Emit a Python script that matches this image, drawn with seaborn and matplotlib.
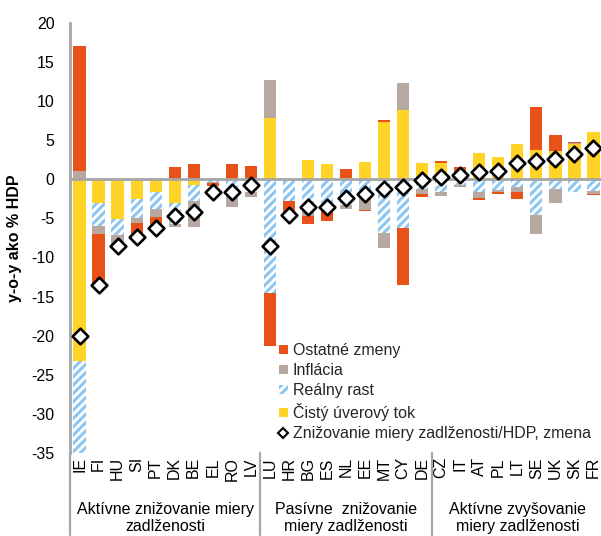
import numpy as np
import matplotlib
matplotlib.use("Agg")
import matplotlib.pyplot as plt
import matplotlib.transforms as mtransforms
from matplotlib.patches import Patch
from matplotlib.lines import Line2D
import seaborn as sns

# ---------------- data ----------------
countries = ["IE", "FI", "HU", "SI", "PT", "DK", "BE", "EL", "RO", "LV",
             "LU", "HR", "BG", "ES", "NL", "EE", "MT", "CY", "DE",
             "CZ", "IT", "AT", "PL", "LT", "SE", "UK", "SK", "FR"]

credit_flow = [-23.3, -3.0, -5.1, -2.5, -1.6, -3.1, -0.8, -0.1, -0.2, 0.0,
               7.8, 0.0, 2.4, 1.9, 0.2, 2.2, 7.3, 8.8, 2.1,
               2.1, 0.85, 3.4, 2.85, 4.5, 3.7, 3.6, 4.45, 6.0]
real_growth = [-13.7, -3.0, -2.0, -2.5, -2.2, -2.6, -2.0, -0.2, -2.0, -1.7,
               -14.5, -2.8, -3.8, -3.6, -3.3, -2.4, -6.9, -6.3, -1.3,
               -1.6, -0.75, -1.6, -1.4, -1.05, -4.6, -1.2, -1.6, -1.5]
inflation = [1.0, -1.0, -1.4, -0.6, -1.05, -0.4, -3.3, -0.2, -1.3, -0.6,
             4.9, 0.0, -0.85, -0.2, -0.5, -1.6, -1.9, 3.5, -0.6,
             -0.55, -0.3, -0.75, -0.3, -0.65, -2.4, -1.8, 0.15, -0.4]
other_changes = [16.0, -6.5, 0.0, -1.8, -1.5, 1.5, 1.9, -0.4, 2.0, 1.65,
                 -6.8, -2.0, -1.1, -1.5, 1.1, -0.1, 0.25, -7.2, -0.4,
                 0.25, 0.7, -0.25, -0.17, -0.85, 5.5, 2.0, 0.2, -0.15]
deleveraging = [-20.0, -13.5, -8.5, -7.4, -6.3, -4.7, -4.2, -1.6, -1.6, -0.7,
                -8.6, -4.6, -3.5, -3.5, -2.4, -1.9, -1.2, -1.0, -0.1,
                0.3, 0.5, 0.9, 1.1, 2.1, 2.3, 2.6, 3.2, 4.0]

series_names = ["Čistý úverový tok", "Reálny rast", "Inflácia", "Ostatné zmeny"]
marker_name = "Znižovanie miery zadlženosti/HDP, zmena"

group_labels = ["Aktívne znižovanie miery\nzadlženosti",
                "Pasívne  znižovanie\nmiery zadlženosti",
                "Aktívne zvyšovanie\nmiery zadlženosti"]
group_sizes = [10, 9, 9]

y_ticks = list(range(-35, 21, 5))

# ---------------- style ----------------
sns.set_theme(style="white")
plt.rcParams["font.family"] = ["Liberation Sans", "DejaVu Sans"]
plt.rcParams["hatch.linewidth"] = 2.2

c_credit = "#FFD426"
c_real_hatch = "#8EC6F2"
c_infl = "#B8A8A2"
c_other = "#E85218"
c_axis = "#A6A6A6"
fs = 11.5

fig = plt.figure(figsize=(6.01, 5.36), dpi=100)
ax = fig.add_axes([70 / 601, 1 - 453 / 536, 533.0 / 601, 430.3 / 536])

series = [credit_flow, real_growth, inflation, other_changes]
styles = [
    dict(color=c_credit),
    dict(color="white", hatch="////", edgecolor=c_real_hatch, linewidth=0),
    dict(color=c_infl),
    dict(color=c_other),
]

pos_base = np.zeros(len(countries))
neg_base = np.zeros(len(countries))
for vals, st in zip(series, styles):
    v = np.asarray(vals, dtype=float)
    bottom = np.where(v >= 0, pos_base, neg_base)
    kw = dict(st)
    col = kw.pop("color")
    sns.barplot(x=countries, y=v, order=countries, bottom=bottom, color=col,
                saturation=1, width=0.64, errorbar=None, ax=ax, zorder=2,
                **({"linewidth": 0} | kw))
    pos_base = pos_base + np.where(v > 0, v, 0)
    neg_base = neg_base + np.where(v < 0, v, 0)

ax.axhline(0, color=c_axis, lw=2, zorder=3)

sns.stripplot(x=countries, y=deleveraging, order=countries, jitter=False,
              marker="D", size=8, color="white", edgecolor="black",
              linewidth=1.9, ax=ax, zorder=5)

ax.set_xlim(-0.5, len(countries) - 0.5)
ax.set_ylim(-35, 20)
ax.set_yticks(y_ticks)
ax.set_yticklabels([str(t) for t in y_ticks], fontsize=fs, color="black")
ax.set_xticks(range(len(countries)))
ax.set_xticklabels(countries, rotation=90, fontsize=fs, color="black")
ax.tick_params(axis="x", length=0, pad=3)
ax.tick_params(axis="y", length=0, pad=11)
ax.set_xlabel("")
ax.set_ylabel("y-o-y ako % HDP", fontsize=11.5, fontweight="bold", color="black")
ax.yaxis.set_label_coords((22 - 70) / 533.0, 0.5)

for s in ["top", "right", "bottom"]:
    ax.spines[s].set_visible(False)
ax.spines["left"].set_color(c_axis)
ax.spines["left"].set_linewidth(2)
ax.grid(False)

# group separators and labels
trans = mtransforms.blended_transform_factory(ax.transData, ax.transAxes)
edges = np.concatenate([[0], np.cumsum(group_sizes)]) - 0.5
for e in edges[:-1]:
    ax.plot([e, e], [0, -0.19], transform=trans, clip_on=False,
            color=c_axis, lw=1.6)
for lab, a, b in zip(group_labels, edges[:-1], edges[1:]):
    ax.text((a + b) / 2, -0.151, lab, transform=trans, ha="center", va="center",
            fontsize=fs, linespacing=1.2, color="black")

# legend
handles = [
    Patch(facecolor=c_other, edgecolor="none"),
    Patch(facecolor=c_infl, edgecolor="none"),
    Patch(facecolor="white", hatch="////", edgecolor=c_real_hatch, linewidth=0),
    Patch(facecolor=c_credit, edgecolor="none"),
    Line2D([], [], marker="D", ls="", mfc="white", mec="black", mew=1.5, ms=5),
]
labels = [series_names[3], series_names[2], series_names[1], series_names[0], marker_name]
fig.legend(handles, labels, loc="upper left", bbox_to_anchor=(279 / 601, 1 - 343 / 536),
           frameon=False, fontsize=fs, handlelength=0.55, handleheight=0.55,
           handletextpad=0.3, labelspacing=0.32, borderpad=0, borderaxespad=0)

fig.savefig("out.png", dpi=100)
